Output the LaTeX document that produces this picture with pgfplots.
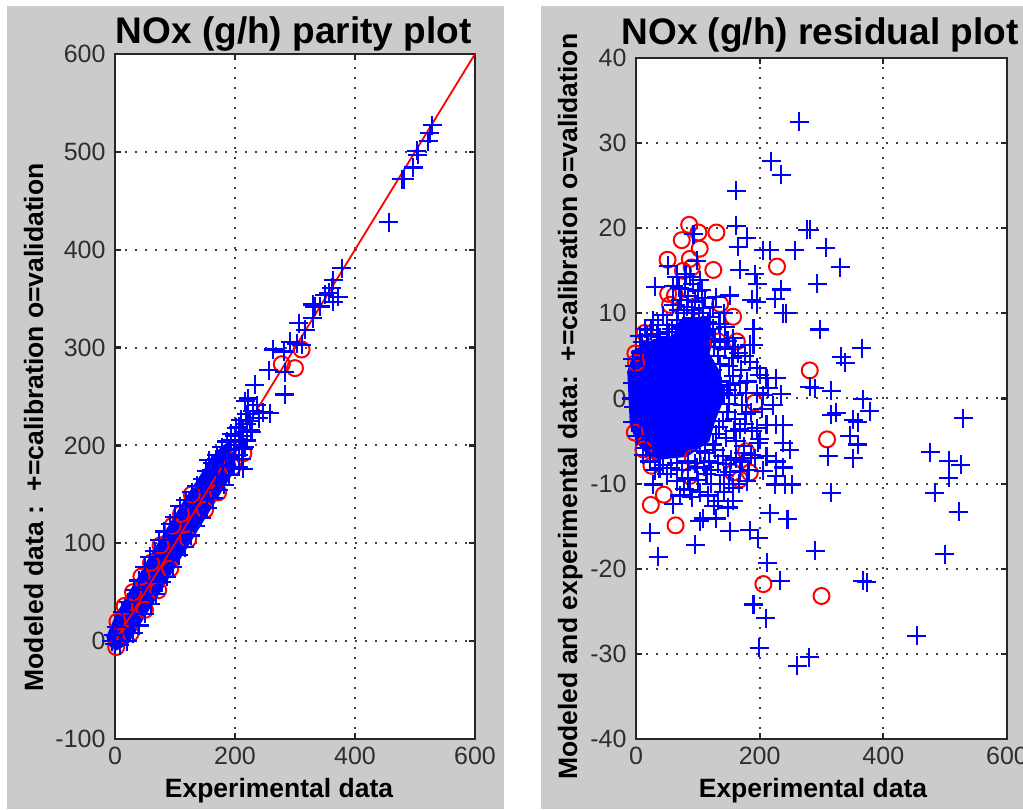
\documentclass[border=0pt]{standalone}
\usepackage{fontspec}
\setmainfont{Liberation Sans}
\usepackage{pgfplots}
\pgfplotsset{compat=1.18}
\definecolor{panel}{HTML}{CBCBCB}
\definecolor{ticktext}{HTML}{2E2E2E}
\pgfplotsset{
  matlab/.style={
    scale only axis,
    anchor=origin,
    clip=false,
    xmin=0, xmax=600,
    xtick={0,200,400,600},
    xticklabels={0,200,400,600},
    grid=major,
    axis line style={line width=1.6pt,color=black!85},
    major grid style={line width=2pt,dash pattern=on 2pt off 8pt,color=black!75},
    tick style={line width=2.2pt,color=black!85},
    major tick length=6pt,
    tick align=inside,
    tick label style={font=\fontsize{25}{25}\selectfont,text=ticktext},
    xticklabel style={yshift=-5pt},
    yticklabel style={xshift=-6pt},
    every axis title shift=0pt,
    axis background/.style={fill=white},
    label style={font=\bfseries\fontsize{26.5}{26.5}\selectfont},
    title style={font=\bfseries\fontsize{37}{37}\selectfont},
  },
  plus/.style={only marks,mark=+,mark size=9.5pt,color=blue,mark options={draw=blue,line width=2.1pt}},
  ring/.style={only marks,mark=o,mark size=8pt,color=red,mark options={draw=red,line width=2pt,fill=none}},
  core/.style={no marks,fill=blue,draw=blue,line width=1pt},
}
\begin{document}
\begin{tikzpicture}[x=1pt,y=1pt]
\path[use as bounding box] (0pt,0pt) rectangle (1023pt,809pt);
\fill[panel] (7pt,0pt) rectangle (504pt,803pt);
\fill[panel] (541pt,0pt) rectangle (1023pt,803pt);

% left: parity plot
\begin{axis}[matlab,
  at={(115pt,70pt)},anchor=south west,
  width=360pt,height=685pt,
  ymin=-100,ymax=600,
  ytick={-100,0,100,200,300,400,500,600},
  yticklabels={-100,0,100,200,300,400,500,600},
  title={NOx (g/h) parity plot},
  title style={at={(axis description cs:0.496,1.016)},anchor=base},
  xlabel={Experimental data},
  xlabel style={at={(axis description cs:0.4556,-0.0861)},anchor=base},
  ylabel={Modeled data :\ \ +=calibration o=validation},
  ylabel style={at={(axis description cs:-0.2,0.455)},anchor=base},
]
\addplot[ring] coordinates {
 (278,283) (300,279) (311,298) (128,150) (96,118) (76,98) (44,66) (4,20) (60,80)
 (30,50) (110,130) (16,36) (214,192) (172,152) (72,52) (26,8) (2,-6) (150,134) (92,74)
 (50,32) (122,104) (196,178)
};
% marks overlap solidly along the lower part of the band
\addplot[core] coordinates {
 (-14,4) (0,24) (16,42) (36,62) (56,84) (76,104) (96,124) (116,144) (136,163) (156,182) (174,196)
 (190,204) (202,178) (179,155) (159,135) (139,115) (119,95) (99,75) (79,54) (59,35) (39,15) (22,-2) (3,-9) (-11,-4)
};
\addplot[plus] coordinates {
 (456,428) (529,527) (525,519) (522,511) (503,501) (505,497) (497,484) (478,472) (482,472)
 (378,381) (364,369) (361,361) (356,356) (372,352) (364,347) (350,354) (330,344) (333,342)
 (342,342) (330,330) (306,325) (317,318) (292,306) (303,304) (311,303) (264,298) (281,296)
 (256,277) (283,275) (233,262) (283,252) (217,245) (247,234) (258,233) (219,232) (236,241)
 (222,248) (206,219) (228,214) (194,205) (211,186) (206,178) (156,185) (169,186)
 (2,14) (12,30) (22,40) (32,52) (40,62) (50,76) (58,86) (66,92) (74,103) (82,112)
 (92,120) (100,127) (108,138) (118,144) (128,152) (136,159) (146,166) (152,174) (162,182)
 (170,190) (178,198) (186,204) (194,212) (202,218) (210,226) (200,210)
 (8,-4) (20,0) (30,8) (40,16) (50,28) (60,38) (68,48) (78,60) (86,66) (96,76)
 (106,88) (116,96) (126,108) (134,118) (144,126) (154,136) (164,146) (172,154) (182,160)
 (190,170) (198,178) (206,190) (214,196) (220,205) (226,216) (214,176)
 (170,170) (180,180) (190,195) (200,200) (210,210) (220,222) (230,235) (240,228) (225,225)
 (-5,0) (-3,6) (0,-3)
 (190,188) (198,196) (206,206) (214,214) (222,232) (216,198) (198,186) (185,190) (192,178)
};
\addplot[no marks,color=red,line width=1.8pt] coordinates {(0,0) (600,600)};
\end{axis}

% right: residual plot
\begin{axis}[matlab,
  at={(636pt,70pt)},anchor=south west,
  width=371pt,height=681pt,
  ymin=-40,ymax=40,
  ytick={-40,-30,-20,-10,0,10,20,30,40},
  yticklabels={-40,-30,-20,-10,0,10,20,30,40},
  title={NOx (g/h) residual plot},
  title style={at={(axis description cs:0.496,1.0191)},anchor=base},
  xlabel={Experimental data},
  xlabel style={at={(axis description cs:0.477,-0.0866)},anchor=base},
  ylabel={Modeled and experimental data:\ \ +=calibration o=validation},
  ylabel style={at={(axis description cs:-0.159,0.488)},anchor=base},
]
\addplot[ring] coordinates {
 (86,20.4) (101,19.5) (130,19.5) (74,18.6) (103,17.6) (87,16.4) (51,16.3) (125,15.1) (228,15.5)
 (76,15) (90,15.4) (52,12.3) (63,12.1) (55,11) (95,10.8) (136,11.1) (157,9.6) (281,3.3)
 (163,6.7) (133,6.7) (0,4.2) (14,7.7) (-1,5.3) (192,-0.5)
 (309,-4.8) (24,-12.5) (45,-11.3) (64,-14.9) (206,-21.8) (300,-23.2) (178,-6.2) (184,-8.7)
 (87,-9.1) (25,-7.9) (12,-6) (-2,-4) (157,-8.7) (168,-9.5) (92,-7)
};
% marks overlap solidly in the centre of the cloud
\addplot[core] coordinates {
 (-14,3) (-2,5.7) (28,6.9) (60,7.3) (71,9.2) (114,9.4) (126,7.4) (118,5.3) (136,3) (142,0)
 (127,-2.7) (118,-5) (82,-6.8) (28,-7.2) (4,-5.4) (-10,-3.1)
};
\addplot[plus] coordinates {
 (264,32.5) (219,27.9) (235,26.3) (162,24.4) (162,20.3) (179,18.9) (165,17.8) (277,19.8) (281,19.8)
 (307,17.7) (257,17.4) (216,17.4) (206,17.4) (330,15.4) (168,15.1) (192,14.6) (196,13.5) (293,13.5)
 (235,12.8) (225,11.7) (187,11.6) (195,11.3) (238,10) (243,10) (297,8.1) (365,5.9) (332,4.9) (338,4.2)
 (190,8.2) (184,6.3) (190,6.3) (165,5.3) (184,4.3) (157,7.1) (136,6.7) (130,11.9) (152,12.1) (106,12.7)
 (31,13.1) (52,15.6) (98,16.2) (93,19.3) (66,14.3) (87,14.3) (103,13.9) (79,12.9) (6,7.3) (28,9.2)
 (50,8.6) (66,9.2) (93,9.4) (120,9.6) (82,10.8) (211,2.4) (227,2.4) (200,2.8) (214,1.2) (281,1.4)
 (289,1.2) (316,0.9) (235,0.5) (157,2.6) (152,1.6) (168,1.8) (367,-0.1)
 (529,-2.3) (378,-1.5) (324,-1.7) (316,-1.9) (351,-2.5) (359,-2.8) (346,-4.4) (359,-5.4) (351,-7)
 (311,-6.8) (238,-3.1) (227,-3.1) (211,-3.1) (195,-3.5) (249,-6) (238,-5.2) (227,-7.4) (211,-6.8)
 (238,-8.1) (227,-9.1) (225,-10.1) (241,-10.1) (252,-10.1) (206,-8.5) (198,-5.2) (476,-6.3) (506,-7.3)
 (525,-7.8) (506,-9.3) (483,-11.1) (522,-13.3) (499,-18.3) (316,-11.1) (216,-13.5) (245,-14.2)
 (184,-15.5) (198,-16.4) (152,-15.6) (130,-14.1) (109,-14.1) (103,-14.4) (96,-17.2) (23,-15.8)
 (36,-18.6) (290,-17.9) (212,-19.3) (233,-21.4) (367,-21.4) (373,-21.6) (190,-24.2) (210,-25.8)
 (199,-29.3) (280,-30.4) (261,-31.4) (454,-27.9) (28,-10.1) (60,-12.4) (71,-11.4) (87,-10.8) (103,-11)
 (122,-10) (133,-12) (149,-12.8) (157,-12) (157,-10.5) (136,-10) (50,-8.9) (66,-9.7) (98,-8.1)
 (114,-8.9) (146,-7.7) (168,-8.5) (179,-9.7)
 (72,11.6) (84,12) (96,11.4) (108,10.6) (60,11) (76,8.4) (88,7.8) (100,8.2) (112,7.6) (124,8.2) (135,8.8)
 (144,8.4) (132,5) (144,5.8) (124,3.4) (150,3.8) (138,1.4) (160,0.4) (172,-0.8) (148,-1.6) (160,-2.4)
 (176,-3) (134,-3.4) (146,-4.6) (162,-5) (174,-5.6) (128,-6) (140,-6.8) (154,-7.2) (186,-6.6) (118,-7.4)
 (104,-6.2) (84,-7.4) (66,-7.6) (44,-7.8) (30,-8.4) (16,-5.8) (6,-2.8) (-4,-1) (-6,1.8) (-3,3.8)
 (8,5.4) (20,6.4) (38,7.2) (50,6.8) (180,2) (196,0.6) (186,-1.6) (204,-1.2) (222,-0.8)
 (14,8.2) (24,8) (36,8.6) (44,9.8) (58,8.2) (68,10.4) (78,10) (90,10.4) (102,10) (116,9) (126,6)
 (10,6.6) (18,7.4) (34,7.6) (54,7.8) (70,13) (80,14.6) (92,13.4) (100,12.6) (60,13.2) (112,11.8) (124,10.8)
 (136,4) (130,2) (142,0.6) (150,-0.6) (140,-2.6) (130,-4.2) (124,-5.4) (112,-6.4) (96,-7.6) (74,-8.4)
 (56,-8.2) (38,-8.2) (22,-7.4) (12,-6.6) (2,-4.4) (-6,-2.8) (-8,0) (-5,4.6)
 (100,-9.6) (110,-8) (122,-8.4) (132,-7.6) (142,-9) (152,-8.6) (162,-7) (172,-7.4) (182,-8.4) (192,-7)
 (84,-9.4) (90,-11.6) (78,-10.6) (116,-11.4) (126,-12.6) (142,-11) (150,-10) (166,-10) (174,-6.4)
 (148,1) (158,-3.8) (168,-3.6) (178,-1.8) (188,-3.8) (200,-4.8) (156,4.8) (170,3.4) (178,0.6) (148,6.8)
 (160,6) (176,5) (142,10) (128,7) (196,3.6) (206,0.4)
};
\end{axis}
\end{tikzpicture}
\end{document}
